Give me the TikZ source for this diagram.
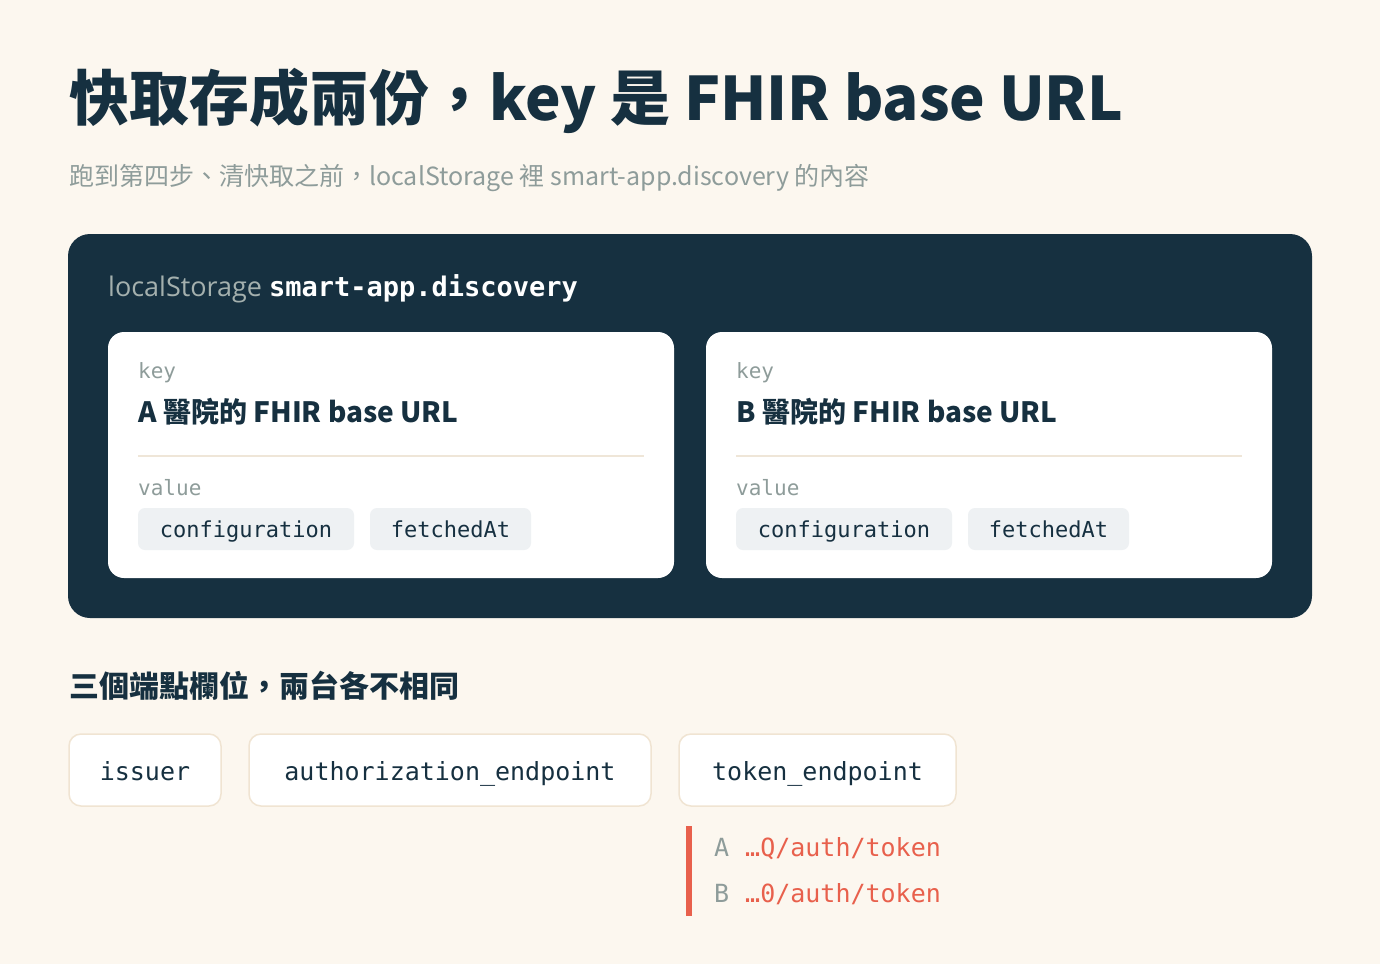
\documentclass[tikz,border=0pt]{standalone}
\usepackage{fontspec}
\setmainfont{Open Sans}
\setmonofont{DejaVu Sans Mono}
\newfontfamily\cjk{Noto Sans CJK TC}
\definecolor{bg}{HTML}{FCF7EF}
\definecolor{ink}{HTML}{163040}
\definecolor{sub}{HTML}{8E9C9A}
\definecolor{chip}{HTML}{EEF1F3}
\definecolor{rule}{HTML}{EFE6D8}
\definecolor{pillb}{HTML}{F0E4D2}
\definecolor{red}{HTML}{E8604C}
\begin{document}
\begin{tikzpicture}[x=1pt,y=-1pt,
  txt/.style={anchor=base west,inner sep=0pt},
  card/.style={fill=white,rounded corners=16pt},
  chipn/.style={fill=chip,rounded corners=7pt},
  pill/.style={fill=white,draw=pillb,line width=1.5pt,rounded corners=12pt}]
\fill[bg] (0,0) rectangle (1380,964);
\useasboundingbox (0,0) rectangle (1380,964);
\node[txt,text=ink] (title) at (69,120) {\fontsize{60}{60}\selectfont\cjk\bfseries 快取存成兩份，key 是 FHIR base URL};
\node[txt,text=sub] (subt) at (69,185) {\fontsize{25}{25}\selectfont\cjk 跑到第四步、清快取之前，localStorage 裡 smart-app.discovery 的內容};
\fill[ink,rounded corners=22pt] (68,234) rectangle (1312,618);
\node[txt,text=sub!80!white] (ls) at (108,296) {\fontsize{27}{27}\selectfont localStorage \textcolor{white}{\ttfamily\bfseries\fontsize{27}{27}\selectfont smart-app.discovery}};
\foreach \x/\l in {0/A,598/B}{
  \begin{scope}[xshift=\x]
  \fill[card] (108,332) rectangle (674,578);
  \node[txt,text=sub] at (138,378) {\fontsize{21}{21}\selectfont\ttfamily key};
  \node[txt,text=ink] at (138,422) {\fontsize{28}{28}\selectfont\cjk\bfseries \l\ 醫院的 FHIR base URL};
  \draw[rule,line width=2pt] (138,456) -- (644,456);
  \node[txt,text=sub] at (138,495) {\fontsize{21}{21}\selectfont\ttfamily value};
  \fill[chipn] (138,508) rectangle (354,550);
  \fill[chipn] (370,508) rectangle (531,550);
  \node[anchor=base,inner sep=0pt,text=ink] at (246,537) {\fontsize{22}{22}\selectfont\ttfamily configuration};
  \node[anchor=base,inner sep=0pt,text=ink] at (450.5,537) {\fontsize{22}{22}\selectfont\ttfamily fetchedAt};
  \end{scope}}
\node[txt,text=ink] (sec) at (69,697) {\fontsize{30}{30}\selectfont\cjk\bfseries 三個端點欄位，兩台各不相同};
\draw[pill] (69,734) rectangle (221,806);
\draw[pill] (249,734) rectangle (651,806);
\draw[pill] (679,734) rectangle (956,806);
\node[anchor=base,inner sep=0pt,text=ink] (p1) at (145,780) {\fontsize{25}{25}\selectfont\ttfamily issuer};
\node[anchor=base,inner sep=0pt,text=ink] (p2) at (450,780) {\fontsize{25}{25}\selectfont\ttfamily authorization\_endpoint};
\node[anchor=base,inner sep=0pt,text=ink] (p3) at (817.5,780) {\fontsize{25}{25}\selectfont\ttfamily token\_endpoint};
\fill[red] (686,826) rectangle (692,916);
\node[txt,text=sub] at (714,856) {\fontsize{25}{25}\selectfont\ttfamily A};
\node[txt,text=red] at (745,856) {\fontsize{25}{25}\selectfont\ttfamily …Q/auth/token};
\node[txt,text=sub] at (714,902) {\fontsize{25}{25}\selectfont\ttfamily B};
\node[txt,text=red] at (745,902) {\fontsize{25}{25}\selectfont\ttfamily …0/auth/token};
\end{tikzpicture}
\end{document}
